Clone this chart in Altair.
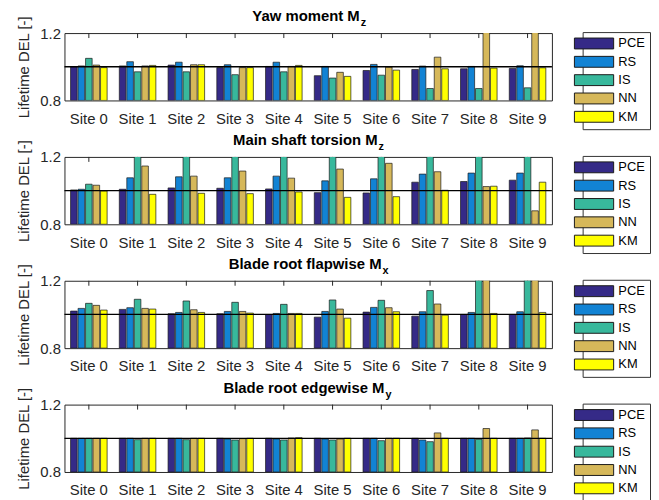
import altair as alt
import pandas as pd

FONT = "Liberation Sans"

sites = ["Site 0", "Site 1", "Site 2", "Site 3", "Site 4",
         "Site 5", "Site 6", "Site 7", "Site 8", "Site 9"]
methods = ["PCE", "RS", "IS", "NN", "KM"]
colors = ["#352A87", "#1283D4", "#38B89C", "#D6B85A", "#FFFF00"]

titles_main = ["Yaw moment M", "Main shaft torsion M",
               "Blade root flapwise M", "Blade root edgewise M"]
titles_sub = ["z", "z", "x", "y"]
y_ticks = [0.8, 1.0, 1.2]
reference = [1.0]

# Yaw moment Mz
yaw_pce = [1.000, 1.005, 1.010, 0.995, 1.002, 0.947, 0.978, 0.984, 0.988, 0.990]
yaw_rs = [1.005, 1.030, 1.027, 1.012, 1.027, 1.002, 1.014, 1.004, 1.002, 1.006]
yaw_is = [1.050, 0.970, 0.970, 0.953, 0.970, 0.933, 0.950, 0.871, 0.871, 0.875]
yaw_nn = [1.010, 1.005, 1.012, 0.995, 1.002, 0.967, 0.998, 1.057, 1.300, 1.300]
yaw_km = [0.995, 1.008, 1.012, 0.995, 1.008, 0.943, 0.980, 0.988, 0.992, 0.994]

# Main shaft torsion Mz
shaft_pce = [1.004, 1.008, 1.016, 1.014, 1.010, 0.988, 0.986, 1.050, 1.054, 1.062]
shaft_rs = [1.008, 1.076, 1.082, 1.076, 1.086, 1.058, 1.070, 1.098, 1.104, 1.104]
shaft_is = [1.038, 1.300, 1.300, 1.300, 1.300, 1.300, 1.300, 1.300, 1.300, 1.300]
shaft_nn = [1.032, 1.146, 1.086, 1.116, 1.074, 1.128, 1.162, 1.112, 1.024, 0.880]
shaft_km = [0.998, 0.978, 0.984, 0.982, 0.992, 0.960, 0.964, 1.002, 1.026, 1.050]

# Blade root flapwise Mx
flap_pce = [1.020, 1.030, 1.004, 1.004, 1.000, 0.984, 1.014, 0.990, 1.000, 1.000]
flap_rs = [1.036, 1.040, 1.012, 1.018, 1.006, 1.018, 1.042, 1.016, 1.012, 1.016]
flap_is = [1.066, 1.090, 1.080, 1.072, 1.060, 1.086, 1.084, 1.142, 1.300, 1.300]
flap_nn = [1.054, 1.036, 1.028, 1.018, 1.006, 1.032, 1.040, 1.062, 1.300, 1.300]
flap_km = [1.026, 1.032, 1.012, 1.008, 1.006, 0.978, 1.016, 0.996, 1.006, 1.012]

# Blade root edgewise My
edge_pce = [1.000, 1.000, 1.000, 1.000, 1.000, 1.000, 1.000, 1.000, 1.000, 1.000]
edge_rs = [1.000, 1.000, 1.000, 0.996, 0.996, 0.996, 1.000, 0.990, 1.000, 1.000]
edge_is = [1.000, 0.992, 0.992, 0.990, 0.990, 0.990, 0.986, 0.980, 0.994, 1.002]
edge_nn = [1.000, 1.000, 1.000, 0.998, 1.002, 0.996, 1.000, 1.032, 1.058, 1.050]
edge_km = [1.000, 1.000, 1.000, 1.000, 1.004, 1.000, 1.000, 1.000, 1.000, 1.000]

panels_data = [
    [yaw_pce, yaw_rs, yaw_is, yaw_nn, yaw_km],
    [shaft_pce, shaft_rs, shaft_is, shaft_nn, shaft_km],
    [flap_pce, flap_rs, flap_is, flap_nn, flap_km],
    [edge_pce, edge_rs, edge_is, edge_nn, edge_km],
]

W, H = 492, 68
P_IN, P_OUT = 0.25, 0.125
title_end = [298, 316, 320, 323]


def make_panel(k):
    rows = []
    for m, series in zip(methods, panels_data[k]):
        for s, v in zip(sites, series):
            rows.append({"site": s, "method": m, "value": v})
    df = pd.DataFrame(rows)

    xscale = alt.Scale(domain=sites, paddingInner=P_IN, paddingOuter=P_OUT)
    yscale = alt.Scale(domain=[0.8, 1.2], nice=False, zero=False)

    bars = alt.Chart(df).mark_bar(clip=True, stroke="#1a1a1a", strokeWidth=0.7).encode(
        x=alt.X("site:N", sort=sites, scale=xscale,
                axis=alt.Axis(title=None, labelAngle=0, ticks=False, domain=False,
                              labelAlign="center", labelBaseline="top",
                              labelFontSize=15, labelPadding=11, labelColor="#262626")),
        xOffset=alt.XOffset("method:N", sort=methods,
                            scale=alt.Scale(domain=methods, paddingInner=0.12, paddingOuter=0)),
        y=alt.Y("value:Q", scale=yscale,
                axis=alt.Axis(title="Lifetime DEL [-]", values=y_ticks, format="~g",
                              ticks=False, domain=False, grid=False,
                              labelFontSize=15, labelPadding=4, labelColor="#262626",
                              titleFontSize=15, titleFontWeight="normal",
                              titleColor="#262626", titlePadding=8)),
        y2=alt.datum(0.8),
        color=alt.Color("method:N", sort=methods,
                        scale=alt.Scale(domain=methods, range=colors),
                        legend=alt.Legend(title=None, orient="none", legendX=523, legendY=-1,
                                          symbolType="M-3.6,-1H3.6V1H-3.6Z", symbolSize=121,
                                          symbolStrokeColor="#1a1a1a", symbolStrokeWidth=1,
                                          labelFontSize=13, labelColor="#000000",
                                          labelOffset=18, rowPadding=3.5, padding=5,
                                          strokeColor="#333333", fillColor="white")),
    )

    top_ticks = alt.Chart(pd.DataFrame({"site": sites})).mark_rule(
        color="#262626", strokeWidth=1).encode(
        x=alt.X("site:N", sort=sites, scale=xscale, bandPosition=0.5),
        y=alt.value(0), y2=alt.value(5))

    ref_line = alt.Chart(pd.DataFrame({"ref": reference})).mark_rule(
        color="#000000", strokeWidth=1.3).encode(
        y=alt.Y("ref:Q", scale=yscale))

    t_main = alt.Chart(pd.DataFrame({"t": [titles_main[k]]})).mark_text(
        align="right", baseline="alphabetic", fontSize=15, fontWeight="bold",
        font=FONT, color="#000000").encode(
        text="t:N", x=alt.value(title_end[k]), y=alt.value(-12))

    t_sub = alt.Chart(pd.DataFrame({"t": [titles_sub[k]]})).mark_text(
        align="left", baseline="alphabetic", fontSize=11, fontWeight="bold",
        font=FONT, color="#000000").encode(
        text="t:N", x=alt.value(title_end[k] + 1), y=alt.value(-7))

    return alt.layer(top_ticks, bars, ref_line, t_main, t_sub).properties(width=W, height=H)


chart = alt.vconcat(*[make_panel(k) for k in range(4)], spacing=57, bounds="flush").resolve_scale(
    color="independent").resolve_legend(color="independent").properties(
    padding={"left": 8, "top": -2, "right": 0, "bottom": 0}
).configure(font=FONT).configure_view(stroke="#262626", strokeWidth=1)

chart.save("out.html", embed_options={"renderer": "svg", "actions": False})
